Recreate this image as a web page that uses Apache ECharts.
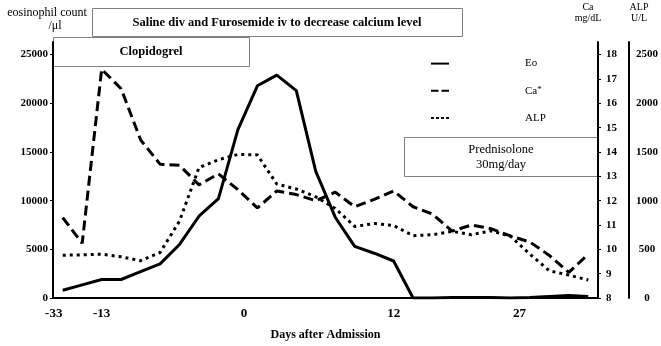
<!DOCTYPE html>
<html>
<head>
<meta charset="utf-8">
<script src="https://cdn.jsdelivr.net/npm/echarts@6/dist/echarts.min.js"></script>
<style>
html, body { margin: 0; padding: 0; background: #fff; }
#chart { width: 661px; height: 346px; }
</style>
</head>
<body>
<div id="chart"></div>
<script>
// days after admission (only some are labelled in the figure)
var days = ['-33', 'd1', '-13', 'd3', 'd4', 'd5', 'd6', 'd7', 'd8', '0',
            'd10', 'd11', 'd12', 'd13', 'd14', 'd15', 'd16', '12', 'd18', 'd19',
            'd20', 'd21', 'd22', '27', 'd24', 'd25', 'd26', 'd27'];
var shownDays = ['-33', '-13', '0', '12', '27'];

// eosinophil count /μl
var eo = [800, 1350, 1900, 1900, 2700, 3500, 5500, 8400, 10200, 17300,
          21800, 22900, 21300, 13000, 8300, 5300, 4600, 3800, 0, 0,
          50, 50, 50, 0, 50, 150, 250, 150];
// Ca mg/dL
var ca = [11.3, 10.25, 17.4, 16.6, 14.5, 13.5, 13.45, 12.65, 13.1, 12.45,
          11.7, 12.4, 12.25, 12.0, 12.35, 11.75, 12.05, 12.4, 11.75, 11.45,
          10.75, 11.0, 10.85, 10.55, 10.3, 9.75, 9.05, 9.8];
// ALP U/L
var alp = [440, 443, 450, 423, 383, 467, 790, 1340, 1420, 1475,
           1470, 1170, 1120, 1040, 920, 735, 765, 745, 640, 650,
           685, 650, 690, 635, 450, 280, 235, 185];

var eoTicks = [0, 5000, 10000, 15000, 20000, 25000];
var caTicks = [8, 9, 10, 11, 12, 13, 14, 15, 16, 17, 18];
var alpTicks = [0, 500, 1000, 1500, 2000, 2500];

var serif = '"Liberation Serif", "Times New Roman", serif';

var myChart = echarts.init(document.getElementById('chart'));

// small nudges so the day labels sit where they sit in the figure
var shift = { '-33': 'l', '0': 'r', '27': 'r2' };
var dayFont = { fontFamily: serif, fontSize: 13, fontWeight: 'bold', color: '#000' };
var plain = function (v) { return String(v); };

var option = {
	backgroundColor: '#fff',
	animation: false,
	grid: { left: 53, right: 63, top: 42, bottom: 41 },
	legend: {
		orient: 'vertical',
		left: 430,
		top: 58,
		padding: 0,
		itemWidth: 18,
		itemHeight: 14,
		itemGap: 16,
		data: [
			{ name: 'Eo' },
			{ name: 'Ca', lineStyle: { type: [7.5, 3] } },
			{ name: 'ALP', lineStyle: { type: [3, 2] } }
		],
		itemStyle: { opacity: 0 },
		textStyle: {
			fontFamily: serif, fontSize: 11, color: '#000',
			padding: [0, 0, 0, 71],
			rich: { sup: { fontFamily: serif, fontSize: 9, color: '#000', verticalAlign: 'top' } }
		},
		formatter: function (n) { return n === 'Ca' ? 'Ca{sup|*}' : n; }
	},
	xAxis: {
		type: 'category',
		data: days,
		boundaryGap: true,
		name: 'Days after Admission',
		nameLocation: 'middle',
		nameGap: 31,
		nameTextStyle: { fontFamily: serif, fontSize: 12, fontWeight: 'bold', color: '#000' },
		axisLine: { lineStyle: { color: '#000', width: 2 } },
		axisTick: { show: false },
		axisLabel: Object.assign({
			interval: 0,
			margin: 9,
			formatter: function (v) {
				if (shownDays.indexOf(v) < 0) return '';
				return shift[v] ? '{' + shift[v] + '|' + v + '}' : v;
			},
			rich: {
				l: Object.assign({ padding: [0, 18, 0, 0] }, dayFont),
				r: Object.assign({ padding: [0, 0, 0, 12] }, dayFont),
				r2: Object.assign({ padding: [0, 0, 0, 18] }, dayFont)
			}
		}, dayFont)
	},
	yAxis: [{
		type: 'value',
		min: 0,
		max: 26300,
		name: '{a|eosinophil count}\n{b|/μl}',
		nameLocation: 'end',
		nameGap: 10,
		nameTextStyle: {
			fontFamily: serif, fontSize: 12, lineHeight: 13, color: '#000', padding: [0, 12, 0, 0],
			rich: {
				a: { fontFamily: serif, fontSize: 12, lineHeight: 13, color: '#000' },
				b: { fontFamily: serif, fontSize: 12, lineHeight: 13, color: '#000', padding: [0, 0, 0, 16] }
			}
		},
		axisLine: { show: true, lineStyle: { color: '#000', width: 2 } },
		axisTick: { show: true, length: 3, customValues: eoTicks, lineStyle: { color: '#000' } },
		axisLabel: { customValues: eoTicks, formatter: plain, margin: 5, fontFamily: serif, fontSize: 11, fontWeight: 'bold', color: '#000' },
		splitLine: { show: false }
	}, {
		type: 'value',
		position: 'right',
		min: 8,
		max: 18.52,
		name: 'Ca\nmg/dL',
		nameLocation: 'end',
		nameGap: 18,
		nameTextStyle: { fontFamily: serif, fontSize: 10, lineHeight: 11, color: '#000', padding: [0, 20, 0, 0] },
		axisLine: { show: true, lineStyle: { color: '#000', width: 2 } },
		axisTick: { show: true, length: 3, customValues: caTicks, lineStyle: { color: '#000' } },
		axisLabel: { customValues: caTicks, formatter: plain, margin: 8, fontFamily: serif, fontSize: 11, fontWeight: 'bold', color: '#000' },
		splitLine: { show: false }
	}, {
		type: 'value',
		position: 'right',
		offset: 31,
		min: 0,
		max: 2630,
		name: 'ALP\nU/L',
		nameLocation: 'end',
		nameGap: 18,
		nameTextStyle: { fontFamily: serif, fontSize: 10, lineHeight: 11, color: '#000', padding: [0, 0, 0, 20] },
		axisLine: { show: true, lineStyle: { color: '#000', width: 2 } },
		axisTick: { show: false },
		axisLabel: { customValues: alpTicks, formatter: plain, margin: 18, align: 'center', fontFamily: serif, fontSize: 11, fontWeight: 'bold', color: '#000' },
		splitLine: { show: false }
	}],
	series: [{
		name: 'Eo',
		type: 'line',
		yAxisIndex: 0,
		symbol: 'none',
		data: eo,
		itemStyle: { color: '#000' },
		lineStyle: { color: '#000', width: 3 }
	}, {
		name: 'Ca',
		type: 'line',
		yAxisIndex: 1,
		symbol: 'none',
		data: ca,
		itemStyle: { color: '#000' },
		lineStyle: { color: '#000', width: 3, type: [10, 5] }
	}, {
		name: 'ALP',
		type: 'line',
		yAxisIndex: 2,
		symbol: 'none',
		data: alp,
		itemStyle: { color: '#000' },
		lineStyle: { color: '#000', width: 3, type: [3, 4] }
	}],
	graphic: [
		{ type: 'rect', shape: { x: 92.5, y: 8.5, width: 370, height: 28 },
		  style: { fill: '#fff', stroke: '#808080', lineWidth: 1 } },
		{ type: 'text', x: 277, y: 23,
		  style: { text: 'Saline div and Furosemide iv to decrease calcium level', font: 'bold 12.5px ' + serif,
		           fill: '#000', align: 'center', verticalAlign: 'middle' } },
		{ type: 'rect', shape: { x: 53.5, y: 37.5, width: 196, height: 29 },
		  style: { fill: '#fff', stroke: '#808080', lineWidth: 1 } },
		{ type: 'text', x: 151, y: 52,
		  style: { text: 'Clopidogrel', font: 'bold 12.5px ' + serif,
		           fill: '#000', align: 'center', verticalAlign: 'middle' } },
		{ type: 'rect', shape: { x: 404.5, y: 137.5, width: 193, height: 39 },
		  style: { fill: '#fff', stroke: '#808080', lineWidth: 1 } },
		{ type: 'text', x: 501, y: 157.5,
		  style: { text: 'Prednisolone\n30mg/day', font: '12.5px ' + serif, lineHeight: 15,
		           fill: '#000', align: 'center', verticalAlign: 'middle' } }
	]
};

myChart.setOption(option);
</script>
</body>
</html>
